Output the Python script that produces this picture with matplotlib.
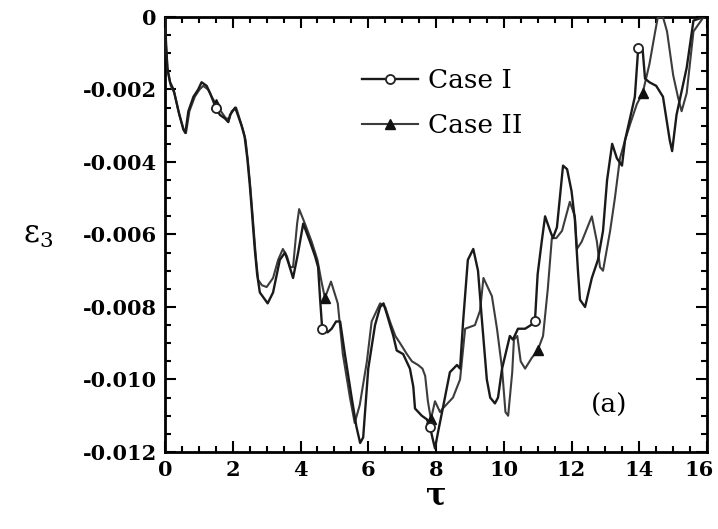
import numpy as np
import matplotlib
matplotlib.use("Agg")
import matplotlib.pyplot as plt
from matplotlib.ticker import MultipleLocator
from matplotlib.transforms import ScaledTranslation

# ---------------- data ----------------
tau_case1 = [0.0, 0.03, 0.07, 0.15, 0.25, 0.40, 0.54, 0.60, 0.69, 0.84, 0.98, 1.08, 1.23, 1.33,
             1.50, 1.62, 1.77, 1.87, 1.92, 2.07, 2.15, 2.26, 2.35, 2.43, 2.50, 2.56, 2.60, 2.65,
             2.72, 2.80, 3.03, 3.19, 3.39, 3.54, 3.65, 3.78, 3.93, 4.08, 4.28, 4.43, 4.52, 4.58,
             4.64, 4.80, 4.92, 5.05, 5.17, 5.31, 5.51, 5.65, 5.76, 5.85, 6.00, 6.20, 6.35, 6.45,
             6.55, 6.74, 6.84, 7.03, 7.23, 7.33, 7.38, 7.58, 7.73, 7.82, 7.91, 7.97, 8.05, 8.20,
             8.41, 8.62, 8.71, 8.80, 8.94, 9.10, 9.24, 9.35, 9.50, 9.60, 9.74, 9.83, 9.95, 10.18,
             10.27, 10.42, 10.63, 10.80, 10.92, 11.00, 11.12, 11.22, 11.37, 11.45, 11.57, 11.75,
             11.87, 12.00, 12.10, 12.19, 12.25, 12.40, 12.60, 12.78, 12.93, 13.05, 13.20, 13.34,
             13.49, 13.58, 13.75, 13.87, 13.97, 14.10, 14.17, 14.30, 14.50, 14.70, 14.90, 14.97,
             15.10, 15.40, 15.60, 15.90]
eps_case1 = [0.0, -0.0007, -0.0014, -0.0018, -0.0020, -0.0026, -0.0031, -0.0032, -0.0026, -0.0022,
             -0.0020, -0.0018, -0.0019, -0.0021, -0.0025, -0.0027, -0.0028, -0.0029, -0.0027,
             -0.0025, -0.0027, -0.0030, -0.0033, -0.0039, -0.0046, -0.0053, -0.0058, -0.0064,
             -0.0071, -0.0076, -0.0079, -0.0076, -0.0067, -0.0065, -0.0068, -0.0072, -0.0065,
             -0.0057, -0.0062, -0.0066, -0.0069, -0.0078, -0.0086, -0.0087, -0.0086, -0.0084,
             -0.0084, -0.0093, -0.0105, -0.0113, -0.01175, -0.0116, -0.0097, -0.0085, -0.0080,
             -0.0079, -0.0082, -0.0088, -0.0092, -0.0093, -0.0097, -0.0102, -0.0108, -0.0110,
             -0.0111, -0.0113, -0.01167, -0.0119, -0.0115, -0.0108, -0.0098, -0.0096, -0.0097,
             -0.0084, -0.0067, -0.0064, -0.0070, -0.0083, -0.0100, -0.0105, -0.01066, -0.0105,
             -0.0097, -0.0088, -0.0089, -0.0086, -0.0086, -0.0085, -0.0084, -0.0071, -0.0062,
             -0.0055, -0.0059, -0.0061, -0.0058, -0.0041, -0.0042, -0.0048, -0.0056, -0.0070,
             -0.0078, -0.0080, -0.0072, -0.0067, -0.0059, -0.0045, -0.0035, -0.0039, -0.0041,
             -0.0034, -0.0027, -0.0022, -0.00085, -0.0009, -0.0017, -0.0018, -0.0019, -0.0022,
             -0.0034, -0.0037, -0.0027, -0.0014, -0.0001, 0.0]

tau_case2 = [0.0, 0.03, 0.08, 0.17, 0.28, 0.42, 0.55, 0.62, 0.72, 0.88, 1.02, 1.13, 1.27, 1.38,
             1.50, 1.65, 1.80, 1.90, 1.97, 2.10, 2.20, 2.30, 2.38, 2.45, 2.52, 2.58, 2.63, 2.68,
             2.75, 2.86, 3.00, 3.19, 3.34, 3.48, 3.60, 3.69, 3.78, 3.90, 3.96, 4.13, 4.33, 4.50,
             4.62, 4.72, 4.90, 5.10, 5.25, 5.46, 5.60, 5.75, 5.96, 6.10, 6.35, 6.50, 6.64, 6.80,
             6.94, 7.14, 7.29, 7.47, 7.60, 7.68, 7.76, 7.85, 7.97, 8.12, 8.20, 8.50, 8.71, 8.86,
             9.15, 9.30, 9.40, 9.65, 9.80, 9.95, 10.05, 10.13, 10.25, 10.30, 10.40, 10.50, 10.63,
             10.83, 11.00, 11.16, 11.30, 11.42, 11.55, 11.72, 11.95, 12.10, 12.16, 12.30, 12.60,
             12.75, 12.84, 12.93, 13.14, 13.28, 13.43, 13.58, 13.75, 13.93, 14.10, 14.30, 14.47,
             14.55, 14.70, 14.82, 15.00, 15.14, 15.25, 15.40, 15.60, 15.90]
eps_case2 = [0.0, -0.0008, -0.0015, -0.0019, -0.0021, -0.0027, -0.0031, -0.0032, -0.0026, -0.0022,
             -0.0020, -0.0019, -0.0020, -0.0022, -0.0024, -0.0026, -0.0028, -0.0028, -0.0026,
             -0.0025, -0.0028, -0.0031, -0.0034, -0.0040, -0.0047, -0.0054, -0.0060, -0.0066,
             -0.00725, -0.0074, -0.00745, -0.0072, -0.0067, -0.0064, -0.0066, -0.0069, -0.0069,
             -0.0057, -0.0053, -0.0057, -0.0062, -0.0067, -0.0073, -0.00775, -0.0073, -0.0079,
             -0.0093, -0.0105, -0.0112, -0.0107, -0.0095, -0.0084, -0.0079, -0.0080, -0.0084,
             -0.0088, -0.0090, -0.0093, -0.0095, -0.0096, -0.0097, -0.0099, -0.0106, -0.0111,
             -0.0106, -0.0109, -0.0108, -0.0105, -0.0100, -0.0086, -0.0085, -0.0081, -0.0072,
             -0.0077, -0.0086, -0.0097, -0.0109, -0.0110, -0.0098, -0.0089, -0.0088, -0.0095,
             -0.0097, -0.0094, -0.0092, -0.0088, -0.0075, -0.0061, -0.0061, -0.0059, -0.0051,
             -0.0055, -0.0064, -0.0062, -0.0055, -0.0062, -0.0069, -0.0070, -0.0059, -0.0050,
             -0.0039, -0.0034, -0.0029, -0.0024, -0.0021, -0.0013, -0.0004, 0.0, 0.0, -0.0004,
             -0.0016, -0.0022, -0.0026, -0.0021, -0.0004, 0.0]

marker_tau_case1 = [1.50, 4.64, 7.82, 10.92, 13.97]
marker_tau_case2 = [1.50, 4.72, 7.85, 11.00, 14.10]

labels = ["Case I", "Case II"]
xticks = [0, 2, 4, 6, 8, 10, 12, 14, 16]
xtick_labels = ["0", "2", "4", "6", "8", "10", "12", "14", "16"]
yticks = [0.0, -0.002, -0.004, -0.006, -0.008, -0.010, -0.012]
ytick_labels = ["0", "-0.002", "-0.004", "-0.006", "-0.008", "-0.010", "-0.012"]

# ---------------- figure ----------------
plt.rcParams["font.family"] = ["DejaVu Serif"]
plt.rcParams["mathtext.fontset"] = "dejavuserif"

fig = plt.figure(figsize=(7.18, 5.29), dpi=100)
ax = fig.add_axes([0.2298, 0.1456, 0.7549, 0.8223])

t1 = np.array(tau_case1); e1 = np.array(eps_case1)
t2 = np.array(tau_case2); e2 = np.array(eps_case2)
mk1 = [int(np.argmin(np.abs(t1 - m))) for m in marker_tau_case1]
mk2 = [int(np.argmin(np.abs(t2 - m))) for m in marker_tau_case2]

ax.plot(t2, e2, color="#3c3c3c", lw=1.5, marker="^", markersize=6.5,
        markerfacecolor="#111111", markeredgecolor="#111111", markevery=mk2,
        label=labels[1], zorder=3)
ax.plot(t1, e1, color="#1a1a1a", lw=1.7, marker="o", markersize=6.5,
        markerfacecolor="white", markeredgecolor="#222222", markeredgewidth=1.3,
        markevery=mk1, label=labels[0], zorder=4)

ax.set_xlim(0, 16)
ax.set_ylim(-0.012, 0.0)
ax.set_xticks(xticks)
ax.set_xticklabels(xtick_labels)
ax.set_yticks(yticks)
ax.set_yticklabels(ytick_labels)
ax.xaxis.set_minor_locator(MultipleLocator(0.5))
ax.yaxis.set_minor_locator(MultipleLocator(0.0005))
ax.tick_params(which="both", direction="in", top=True, right=True, width=1.5)
ax.tick_params(which="major", length=8, labelsize=15, pad=6)
ax.tick_params(which="minor", length=4)
for lab in ax.get_xticklabels() + ax.get_yticklabels():
    lab.set_fontweight("bold")
# keep the last x label inside the canvas
last = ax.get_xticklabels()[-1]
last.set_transform(last.get_transform() + ScaledTranslation(-6 / 72, 0, fig.dpi_scale_trans))
for sp in ax.spines.values():
    sp.set_linewidth(2)

ax.set_xlabel("τ", fontsize=22, fontweight="bold", labelpad=0)
ax.set_ylabel(r"$\mathrm{\varepsilon}_{\mathrm{3}}$", fontsize=22, rotation=0,
              labelpad=32, va="center")

ax.text(0.82, 0.108, "(a)", transform=ax.transAxes, fontsize=19, ha="center", va="center")

h, l = ax.get_legend_handles_labels()
ax.legend([h[1], h[0]], [l[1], l[0]], loc="upper left", bbox_to_anchor=(0.33, 0.925),
          frameon=False, fontsize=19, handlelength=2.1, handletextpad=0.4,
          labelspacing=0.75, borderpad=0.2)

fig.savefig("out.png", dpi=100)
